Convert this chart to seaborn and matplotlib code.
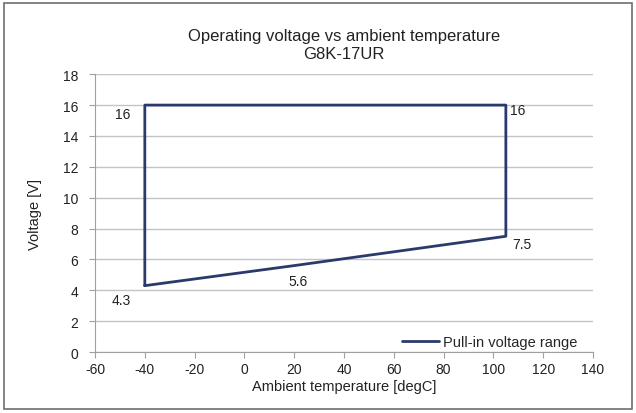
import pandas as pd
import seaborn as sns
import matplotlib.pyplot as plt
from matplotlib.patches import Rectangle

# outline of the pull-in voltage range (closed polygon)
temp = [-40, 20, 105, 105, -40, -40]
volt = [4.3, 5.6, 7.5, 16, 16, 4.3]

lbl_x = [-40, 20, 105, 105, -40]
lbl_y = [4.3, 5.6, 7.5, 16, 16]
lbl_txt = ["4.3", "5.6", "7.5", "16", "16"]
lbl_dx = [-24, 4, 16, 12, -22]
lbl_dy = [-14, -15, -8, -5, -9]

df = pd.DataFrame({"temp": temp, "volt": volt, "series": "Pull-in voltage range"})

sns.set_theme(style="white")
plt.rcParams['font.family'] = ['Liberation Sans', 'DejaVu Sans']
plt.rcParams['axes.unicode_minus'] = False

fig = plt.figure(figsize=(6.36, 4.14), dpi=100)
ax = fig.add_axes([0.1494, 0.1473, 0.783, 0.671])

sns.lineplot(data=df, x="temp", y="volt", hue="series", sort=False,
             palette=["#2a3a6b"], linewidth=2.0, ax=ax, estimator=None)

for x, y, t, dx, dy in zip(lbl_x, lbl_y, lbl_txt, lbl_dx, lbl_dy):
    ax.annotate(t, (x, y), xytext=(dx * 0.72, dy * 0.72), textcoords="offset points",
                fontsize=10, color="#222222", va="center", ha="center")

ax.set_xlim(-60, 140)
ax.set_ylim(0, 18)
ax.set_xticks(range(-60, 141, 20))
ax.set_yticks(range(0, 19, 2))
ax.yaxis.grid(True, color="#c4c4c4", linewidth=1)
ax.set_axisbelow(True)
for s in ["top", "right"]:
    ax.spines[s].set_visible(False)
for s in ["left", "bottom"]:
    ax.spines[s].set_color("#a0a0a0")
    ax.spines[s].set_linewidth(0.8)
ax.tick_params(axis="both", which="both", direction="out", length=4, width=0.8,
               color="#a0a0a0", labelsize=10, labelcolor="#222222",
               bottom=True, left=True)
ax.tick_params(axis="y", pad=8)
ax.tick_params(axis="x", pad=3)

ax.set_xlabel("Ambient temperature [degC]", fontsize=10.5, color="#222222", labelpad=2)
ax.set_ylabel("Voltage [V]", fontsize=10.5, color="#222222", labelpad=15)
ax.set_title("Operating voltage vs ambient temperature\nG8K-17UR", fontsize=12,
             color="#222222", pad=12, linespacing=1.25)

leg = ax.legend(loc="center right", bbox_to_anchor=(0.968, 0.036), frameon=False,
                fontsize=10.5, handlelength=2.5, handletextpad=0.27,
                borderaxespad=0, borderpad=0)

fig.patches.append(Rectangle((0.007, 0.01), 0.986, 0.98, transform=fig.transFigure,
                             fill=False, edgecolor="#6e6e6e", linewidth=1.2))

fig.savefig("out.png", dpi=100)
